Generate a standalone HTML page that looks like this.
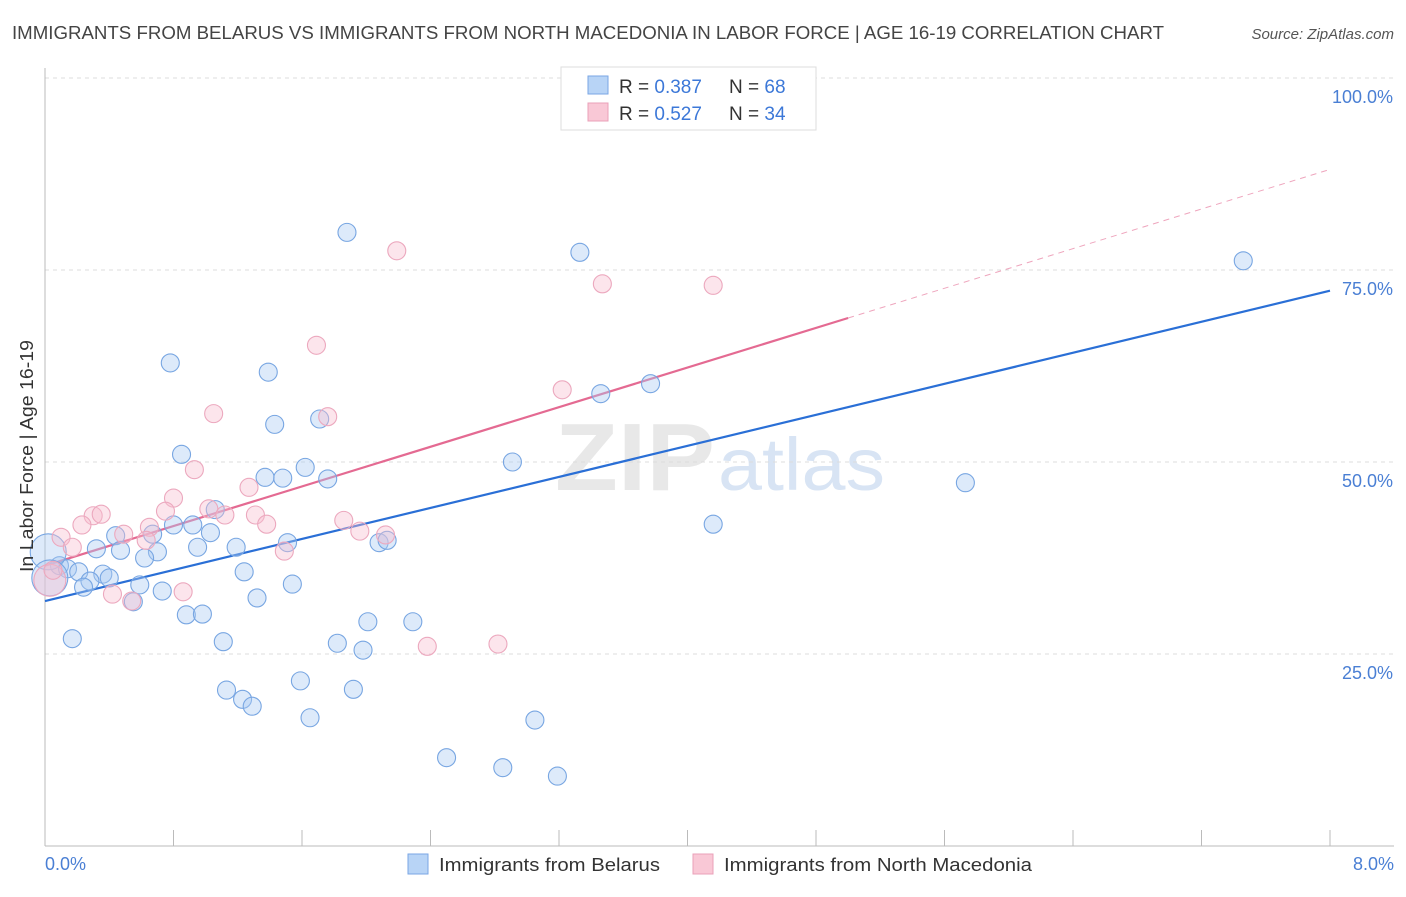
<!DOCTYPE html>
<html><head><meta charset="utf-8"><style>
body{margin:0;background:#fff;font-family:"Liberation Sans",sans-serif;}
svg text{font-family:"Liberation Sans",sans-serif;}
</style></head><body>
<svg id="chart" width="1406" height="892">
<text x="12" y="39" font-size="18" fill="#444" textLength="1152" lengthAdjust="spacingAndGlyphs">IMMIGRANTS FROM BELARUS VS IMMIGRANTS FROM NORTH MACEDONIA IN LABOR FORCE | AGE 16-19 CORRELATION CHART</text>
<text x="1394" y="39" font-size="15" fill="#555" font-style="italic" text-anchor="end">Source: ZipAtlas.com</text>
<text x="555" y="490" font-size="96" fill="#e8e8e8" font-family="Liberation Serif" font-weight="bold" textLength="160" lengthAdjust="spacingAndGlyphs">ZIP</text>
<text x="718" y="490" font-size="74" fill="#d8e4f4" textLength="167" lengthAdjust="spacingAndGlyphs">atlas</text>
<g id="grid"></g><g id="axes"></g><g id="trend"></g><g id="pts"></g>
<text transform="translate(33,456) rotate(-90)" font-size="18" fill="#333" text-anchor="middle" textLength="232" lengthAdjust="spacingAndGlyphs">In Labor Force | Age 16-19</text>
<text x="45" y="870" font-size="18" fill="#4a7fd4">0.0%</text>
<text x="1394" y="870" font-size="18" fill="#4a7fd4" text-anchor="end">8.0%</text>
<g>
<rect x="408" y="854" width="20" height="20" fill="#b8d4f6" stroke="#7aa6e4"/>
<text x="439" y="871" font-size="18" fill="#333" textLength="221" lengthAdjust="spacingAndGlyphs">Immigrants from Belarus</text>
<rect x="693" y="854" width="20" height="20" fill="#f9c8d6" stroke="#eaa0b8"/>
<text x="724" y="871" font-size="18" fill="#333" textLength="308" lengthAdjust="spacingAndGlyphs">Immigrants from North Macedonia</text>
</g>
<g>
<rect x="561" y="67" width="255" height="63" fill="#fff" stroke="#ddd"/>
<rect x="588" y="76" width="20" height="18" fill="#b8d4f6" stroke="#7aa6e4"/>
<text x="619" y="93" font-size="19" fill="#333">R = <tspan fill="#3c78d8">0.387</tspan></text>
<text x="729" y="93" font-size="19" fill="#333">N = <tspan fill="#3c78d8">68</tspan></text>
<rect x="588" y="103" width="20" height="18" fill="#f9c8d6" stroke="#eaa0b8"/>
<text x="619" y="120" font-size="19" fill="#333">R = <tspan fill="#3c78d8">0.527</tspan></text>
<text x="729" y="120" font-size="19" fill="#333">N = <tspan fill="#3c78d8">34</tspan></text>
</g>
</svg>
<script>
const yTicks=[25,50,75,100];
const yTickLabels=["25.0%","50.0%","75.0%","100.0%"];
const blueX=[1.88,3.33,7.46,0.78,1.39,3.77,3.46,1.43,1.71,0.85,2.91,1.62,1.37,1.48,1.76,5.73,1.06,4.16,0.80,0.92,1.03,0.44,0.67,1.51,2.08,2.13,0.32,0.47,0.70,1.19,0.95,0.62,0.09,0.14,0.21,0.36,0.40,0.28,0.24,0.59,0.73,1.24,1.54,0.55,1.32,0.88,0.98,2.01,2.29,0.17,1.11,1.82,1.98,1.59,1.13,1.92,1.23,1.29,1.65,3.05,2.50,2.85,3.19,3.72,4.33,0.02,0.03];
const blueY=[79.9,77.3,76.2,62.9,61.7,60.2,58.9,54.9,55.6,51.0,50.0,49.3,48.0,47.9,47.8,47.3,43.8,41.9,41.8,41.8,40.8,40.4,40.6,39.5,39.5,39.8,38.7,38.5,38.3,38.9,38.9,37.5,36.5,36.1,35.7,35.4,34.9,34.5,33.7,34.0,33.2,35.7,34.1,31.8,32.3,30.1,30.2,29.2,29.2,27.0,26.6,26.4,25.5,21.5,20.3,20.4,19.1,18.2,16.7,16.4,11.5,10.2,9.1,99.7,99.7,38.3,34.9];
const blueBig=[0,0,0,0,0,0,0,0,0,0,0,0,0,0,0,0,0,0,0,0,0,0,0,0,0,0,0,0,0,0,0,0,0,0,0,0,0,0,0,0,0,0,0,0,0,0,0,0,0,0,0,0,0,0,0,0,0,0,0,0,0,0,0,0,0,1,1];
const pinkX=[2.19,3.47,4.16,1.69,3.22,1.05,1.76,0.93,1.27,0.80,0.75,1.02,0.30,0.35,0.23,0.10,0.17,0.49,0.65,0.63,1.12,1.31,1.38,1.86,1.96,2.12,1.49,0.42,0.54,0.86,2.38,2.82,0.03,0.05];
const pinkY=[77.5,73.2,73.0,65.2,59.4,56.3,55.9,49.0,46.7,45.3,43.6,43.9,43.0,43.2,41.8,40.2,38.9,40.6,41.5,39.8,43.1,43.1,41.9,42.4,41.0,40.5,38.4,32.8,31.9,33.1,26.0,26.3,34.6,35.9];
const blueTrend=[31.9,72.3];
const pinkTrend=[36.5,88.1];
const pinkSolidEnd=5.0;
const X0=45,X1=1330,Y0=846,Y100=78;
const sx=v=>X0+(X1-X0)*v/8;
const sy=v=>Y0-(Y0-Y100)*v/100;
const NS="http://www.w3.org/2000/svg";
function mk(tag,attrs,parent){const e=document.createElementNS(NS,tag);for(const k in attrs)e.setAttribute(k,attrs[k]);document.getElementById(parent).appendChild(e);return e;}
yTicks.forEach((t,i)=>{
 const g=mk('line',{x1:45,x2:1394,y1:sy(t),y2:sy(t),stroke:'#ddd','stroke-dasharray':'4,4'},'grid');
 
 
 const tx=mk('text',{x:1393,y:sy(t)+25,'font-size':18,fill:'#4a7fd4','text-anchor':'end'},'grid');
 tx.textContent=yTickLabels[i];
 
 
});
const ya=mk('line',{x1:45,x2:45,y1:68,y2:846,stroke:'#bbb'},'axes');


const xa=mk('line',{x1:45,x2:1394,y1:846,y2:846,stroke:'#bbb'},'axes');


for(let i=1;i<=10;i++){const tk=mk('line',{x1:sx(i*0.8),x2:sx(i*0.8),y1:830,y2:846,stroke:'#bbb'},'axes');
 
 }
function tr(vals,end,col,name){
 const f=x=>vals[0]+(vals[1]-vals[0])*x/8;
 const l=mk('line',{x1:sx(0),y1:sy(f(0)),x2:sx(end),y2:sy(f(end)),stroke:col,'stroke-width':2.2},'trend');
 
 
 if(end<8){const d=mk('line',{x1:sx(end),y1:sy(f(end)),x2:sx(8),y2:sy(f(8)),stroke:col,'stroke-width':1,'stroke-dasharray':'6,5',opacity:0.6},'trend');
 
 }
}
blueX.forEach((x,i)=>{const c=mk('circle',{cx:sx(x),cy:sy(blueY[i]),r:blueBig[i]?18:9,fill:'rgba(170,202,242,0.4)',stroke:'#78a6e2','stroke-width':1.1},'pts');
 
 });
pinkX.forEach((x,i)=>{const c=mk('circle',{cx:sx(x),cy:sy(pinkY[i]),r:i==32?16:9,fill:'rgba(247,190,208,0.4)',stroke:'#eca8be','stroke-width':1.1},'pts');
 
 });
tr(blueTrend,8,'#2a6fd6','trend-belarus');
tr(pinkTrend,pinkSolidEnd,'#e46a92','trend-macedonia');
</script>
</body></html>
